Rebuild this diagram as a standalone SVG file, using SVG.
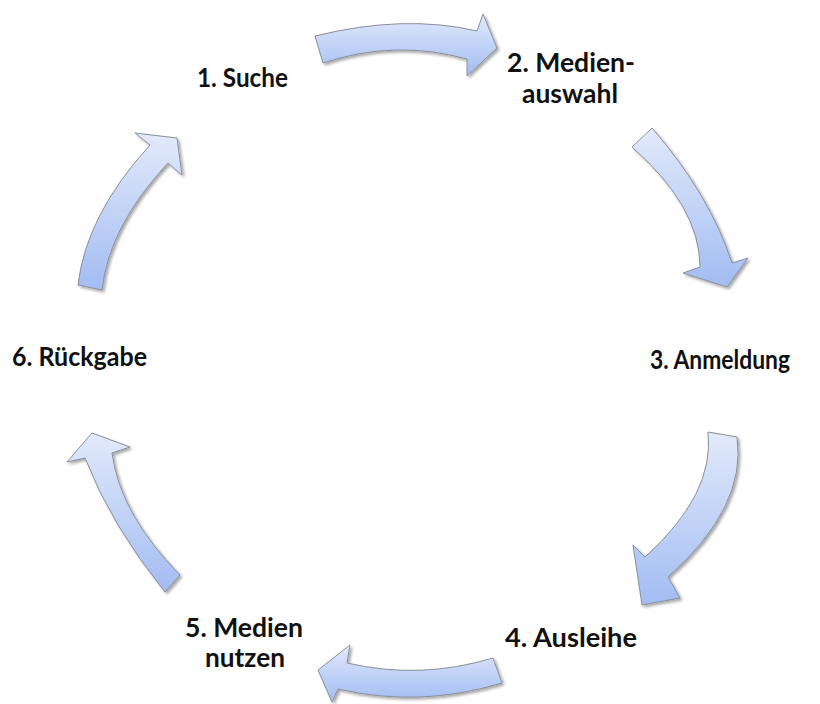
<svg xmlns="http://www.w3.org/2000/svg" width="820" height="704" viewBox="0 0 820 704">
<defs>
<linearGradient id="g" x1="0" y1="0" x2="0" y2="1">
<stop offset="0" stop-color="#e2eafb"/>
<stop offset="1" stop-color="#a2bcf2"/>
</linearGradient>
<filter id="sh" x="-20%" y="-20%" width="140%" height="140%">
<feGaussianBlur in="SourceAlpha" stdDeviation="1.5"/>
<feOffset dx="1.5" dy="2" result="o"/>
<feComponentTransfer><feFuncA type="linear" slope="0.35"/></feComponentTransfer>
<feMerge><feMergeNode/><feMergeNode in="SourceGraphic"/></feMerge>
</filter>
</defs>
<style>
.arr{fill:url(#g);stroke:#8a8f99;stroke-width:1;stroke-linejoin:miter;filter:url(#sh)}
.lbl{font-family:Lato,"Open Sans","Liberation Sans",sans-serif;font-weight:bold;font-size:27px;fill:#111}
</style>
<rect width="820" height="704" fill="#ffffff"/>
<g id="connectors">
<path class="arr" d="M315,36 Q404,14 477,31 L483,14 L497,48 L467,76 L467,59 Q395,39 323,63 Z"/>
<path class="arr" d="M652,128 Q710,195 732,263 L748,258 L727,287 L683,273 L700,267 Q700,207 632,147 Z"/>
<path class="arr" d="M708,432 L737,437 Q747,507 668,577 L680,598 L642,605 L633,545 L645,557 Q715,494 708,432 Z"/>
<path class="arr" d="M493,658 L502,683 Q420,708 338,689 L332,702 L318,670 L350,645 L347,663 Q420,680 493,658 Z"/>
<path class="arr" d="M165,592 L180,575 Q120,514 112,453 L130,447 L92,433 L67,462 L85,458 Q111,525 165,592 Z"/>
<path class="arr" d="M78,285 Q86,215 150,145 L135,133 L177,138 L182,175 L168,163 Q109,226 102,290 Z"/>
</g>
<g id="n1"><text class="lbl" x="197" y="87" textLength="91" lengthAdjust="spacingAndGlyphs">1. Suche</text></g>
<g id="n2"><text class="lbl" x="507" y="72" textLength="128" lengthAdjust="spacingAndGlyphs">2. Medien-</text><text class="lbl" x="522" y="103" textLength="96" lengthAdjust="spacingAndGlyphs">auswahl</text></g>
<g id="n3"><text class="lbl" x="650" y="369" textLength="140" lengthAdjust="spacingAndGlyphs">3. Anmeldung</text></g>
<g id="n4"><text class="lbl" x="505" y="647" textLength="132" lengthAdjust="spacingAndGlyphs">4. Ausleihe</text></g>
<g id="n5"><text class="lbl" x="185" y="637" textLength="118" lengthAdjust="spacingAndGlyphs">5. Medien</text><text class="lbl" x="205" y="667" textLength="80" lengthAdjust="spacingAndGlyphs">nutzen</text></g>
<g id="n6"><text class="lbl" x="12" y="366" textLength="135" lengthAdjust="spacingAndGlyphs">6. Rückgabe</text></g>
</svg>
